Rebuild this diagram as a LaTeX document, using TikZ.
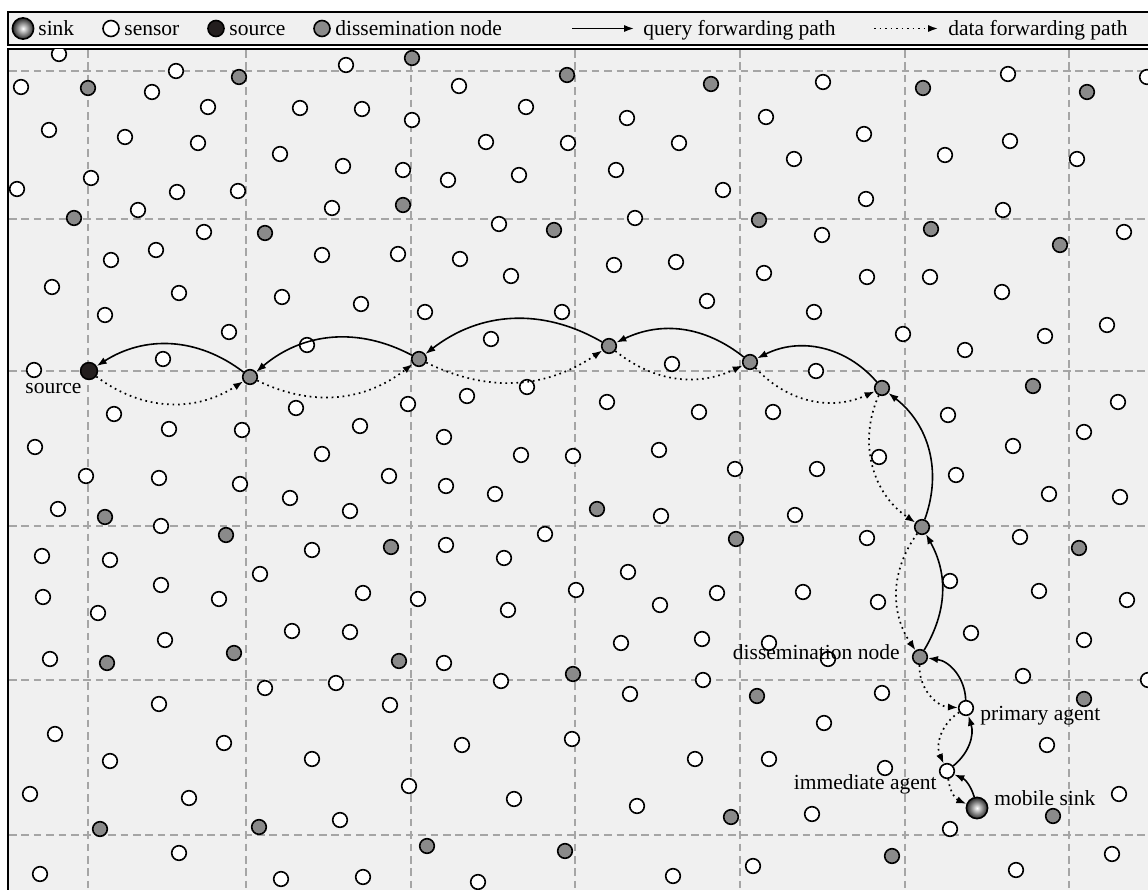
\documentclass[tikz,border=0pt]{standalone}
\usepackage{fontspec}
\setmainfont{Liberation Serif}
\usetikzlibrary{arrows.meta}
\definecolor{fondo}{RGB}{240,240,240}
\definecolor{rejilla}{RGB}{165,165,165}
\definecolor{grisdn}{RGB}{138,138,138}
\definecolor{negrofuente}{RGB}{35,30,30}

\begin{document}
\begin{tikzpicture}[x=0.5pt, y=-0.5pt, >={Latex[length=5pt,width=3.6pt]},
    font=\fontsize{10.75}{13}\selectfont,
    sensor/.style={circle, draw, line width=0.8pt, fill=white, inner sep=0pt, minimum size=7.3pt},
    dnode/.style={sensor, fill=grisdn},
    srcnode/.style={sensor, fill=negrofuente, minimum size=8.4pt},
    sinknode/.style={circle, draw, line width=0.8pt, inner sep=0pt, minimum size=10.6pt, inner color=white, outer color=black!85},
    legendbig/.style={minimum size=8pt},
    query/.style={->, line width=0.8pt},
    data/.style={->, line width=0.85pt, dash pattern=on 0.85pt off 1.9pt},
    gridline/.style={rejilla, line width=1pt, dash pattern=on 3.8pt off 2.4pt},
    marco/.style={line width=1pt},
    etiqueta/.style={inner sep=0pt}]
    \useasboundingbox (0,0) rectangle (1148,890);
    \clip (0,0) rectangle (1148,890);

    % Leyenda
    \fill[fondo] (8,12) rectangle (1160,45);
    \draw[marco] (1160,12) -- (8,12) -- (8,45) -- (1160,45);
    \node[sinknode] (lsink) at (23,28.5) {};
    \node[etiqueta, anchor=base west] (tsink) at (38,35) {sink};
    \node[sensor, legendbig] (lsensor) at (111,28.5) {};
    \node[etiqueta, anchor=base west] (tsensor) at (124,35) {sensor};
    \node[srcnode, legendbig] (lsrc) at (216,28.5) {};
    \node[etiqueta, anchor=base west] (tsrc) at (229,35) {source};
    \node[dnode, legendbig] (ldn) at (322,28.5) {};
    \node[etiqueta, anchor=base west] (tdn) at (335,35) {dissemination node};
    \coordinate (lq1) at (572,28.5);
    \coordinate (lq2) at (634,28.5);
    \draw[query] (lq1) -- (lq2);
    \node[etiqueta, anchor=base west] (tq) at (643,35) {query forwarding path};
    \coordinate (ld1) at (874,28.5);
    \coordinate (ld2) at (938,28.5);
    \draw[data] (ld1) -- (ld2);
    \node[etiqueta, anchor=base west] (td) at (948,35) {data forwarding path};

    % Campo de sensores
    \fill[fondo] (8,49) rectangle (1160,900);
    \draw[marco] (1160,49) -- (8,49) -- (8,900);

    % Rejilla
    \foreach \gx in {88,246,411,575,740,905,1069}
        \draw[gridline] (\gx,50) -- (\gx,890);
    \foreach \gy in {71,219,371,526,680,835}
        \draw[gridline] (9,\gy) -- (1148,\gy);

    \begin{scope}
    \clip (8.5,49.5) rectangle (1160,900);
    % Sensores
    \foreach \sx/\sy [count=\i] in {59/54, 176/71, 346/65, 21/87, 152/92, 459/86, 208/107, 300/108,
        362/109, 412/120, 526/107, 49/130, 125/137, 198/143, 486/142, 568/143, 280/154, 343/166,
        403/170, 448/180, 519/175, 91/178, 17/189, 177/192, 238/191, 332/208, 138/210, 499/224,
        204/232, 156/250, 111/260, 322/255, 398/254, 460/259, 511/276, 52/287, 179/293, 282/297,
        361/304, 105/315, 425/312, 562/312, 229/332, 307/345, 491/339, 163/359, 34/370, 527/387,
        467/396, 296/408, 408/404, 114/414, 169/429, 242/430, 360/426, 444/437, 35/447, 322/454,
        521/455, 573/456,
        823/82, 1008/74, 1147/77, 627/118, 766/117, 679/143, 616/170, 794/159, 864/134, 1010/141,
        945/155, 1077/159, 723/190, 866/199, 1003/210, 635/218, 822/235, 1124/232, 614/265,
        676/262, 764/273, 867/277, 930/277, 1002/292, 707/301, 814/312, 1107/325, 903/334,
        1045/336, 965/350, 672/364, 816/371, 607/402, 699/412, 773/412, 948/415, 1118/402,
        1084/432, 1013/446, 659/450, 879/457,
        86/476, 159/478, 240/484, 290/498, 389/476, 446/486, 495/494, 350/511, 58/509, 161/526,
        312/550, 446/545, 545/534, 42/556, 110/560, 504/558, 260/574, 161/585, 43/597, 219/599,
        363/593, 418/599, 508/610, 576/590, 98/613, 165/640, 292/631, 350/632, 50/659, 444/663,
        265/688, 336/683, 501/681, 159/704, 390/705, 55/734, 224/743, 462/745, 572/739, 110/761,
        312/759, 30/794, 189/798, 409/786, 514/799, 340/820, 179/853, 40/874, 281/879, 363/877,
        478/882,
        735/469, 817/469, 956/475, 1049/494, 1120/497, 661/516, 795/515, 867/538, 1020/537,
        628/572, 717/593, 660/605, 803/592, 878/602, 950/581, 1039/591, 1127/600, 621/643,
        702/639, 769/643, 828/659, 971/633, 1084/640, 703/680, 630/694, 882/693, 1023/676,
        1148/680, 824/723, 1047/745, 695/759, 769/759, 885/768, 1119/794, 637/806, 812/814,
        950/829, 1112/854, 753/866, 673/876, 1016/870}
        \node[sensor] (s\i) at (\sx,\sy) {};
    % Nodos de diseminacion
    \foreach \gx/\gy [count=\i] in {412/58, 239/77, 567/75, 88/88, 403/205, 74/218, 554/230,
        265/233, 711/84, 923/88, 1087/92, 759/220, 931/229, 1060/245, 1033/386, 105/517,
        226/535, 391/547, 107/663, 234/653, 399/661, 573/674, 100/829, 259/827, 427/846,
        565/851, 597/509, 736/539, 1079/548, 757/696, 1084/699, 731/817, 1053/816, 892/856}
        \node[dnode] (g\i) at (\gx,\gy) {};
    \end{scope}

    % Camino
    \node[srcnode] (src) at (89,371) {};
    \node[dnode] (d1) at (250,377) {};
    \node[dnode] (d2) at (419,359) {};
    \node[dnode] (d3) at (609,346) {};
    \node[dnode] (d4) at (750,362) {};
    \node[dnode] (d5) at (882,388) {};
    \node[dnode] (d6) at (922,527) {};
    \node[dnode] (d7) at (920,657) {};
    \node[sensor] (pa) at (966,708) {};
    \node[sensor] (ia) at (947,771) {};
    \node[sinknode] (sink) at (977,808) {};

    % Consulta
    \draw[query] (d1) to[bend right=35] (src);
    \draw[query] (d2) to[bend right=34] (d1);
    \draw[query] (d3) to[bend right=34] (d2);
    \draw[query] (d4) to[bend right=32] (d3);
    \draw[query] (d5) to[bend right=38] (d4);
    \draw[query] (d6) to[bend right=36] (d5);
    \draw[query] (d7) to[bend right=30] (d6);
    \draw[query] (pa) to[bend right=40] (d7);
    \draw[query] (ia) to[bend right=34] (pa);
    \draw[query] (sink) to[bend right=25] (ia);

    % Datos
    \draw[data] (src) to[bend right=35] (d1);
    \draw[data] (d1) to[bend right=32] (d2);
    \draw[data] (d2) to[bend right=30] (d3);
    \draw[data] (d3) to[bend right=32] (d4);
    \draw[data] (d4) to[bend right=36] (d5);
    \draw[data] (d5) to[bend right=40] (d6);
    \draw[data] (d6) to[bend right=35] (d7);
    \draw[data] (d7) to[bend right=45] (pa);
    \draw[data] (pa) to[bend right=41] (ia);
    \draw[data] (ia) to[bend right=30] (sink);

    % Etiquetas
    \node[etiqueta, anchor=base west] (tsource) at (25,393) {source};
    \node[etiqueta, anchor=base east] (tdiss) at (900,659) {dissemination node};
    \node[etiqueta, anchor=base west] (tpa) at (980,720) {primary agent};
    \node[etiqueta, anchor=base east] (tia) at (937,789) {immediate agent};
    \node[etiqueta, anchor=base west] (tsink2) at (994,805) {mobile sink};
\end{tikzpicture}
\end{document}
